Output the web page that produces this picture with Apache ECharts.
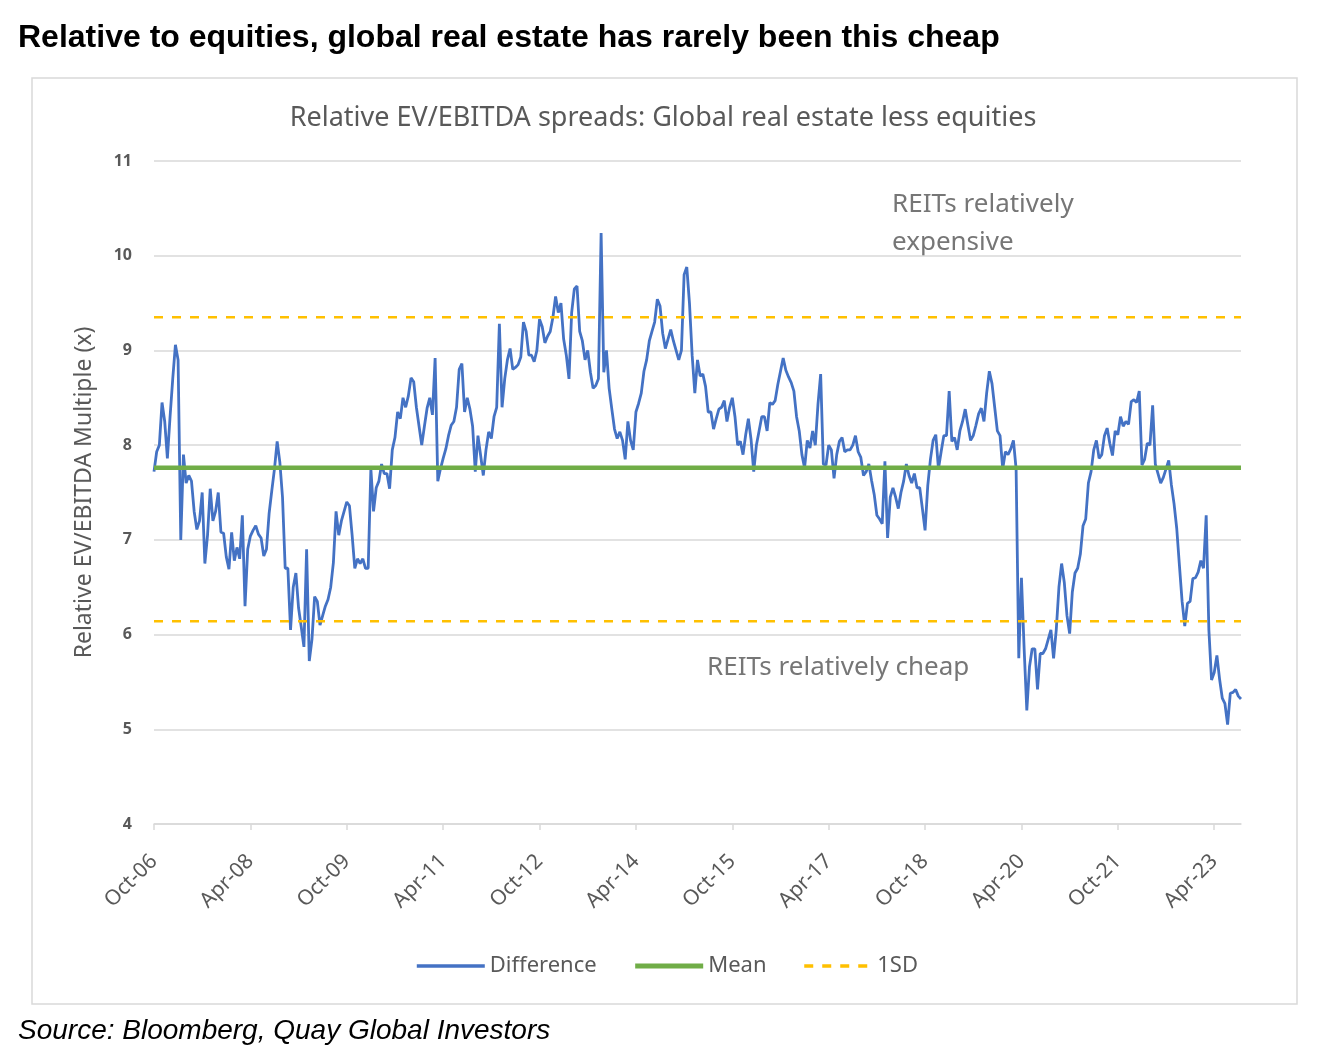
<!DOCTYPE html>
<html>
<head>
<meta charset="utf-8">
<title>Relative EV/EBITDA spreads</title>
<script src="https://cdn.jsdelivr.net/npm/echarts@6/dist/echarts.min.js"></script>
<style>
  html, body { margin: 0; padding: 0; background: #fff; }
  #chart { width: 1333px; height: 1063px; }
</style>
</head>
<body>
<div id="chart"></div>
<script>
// semi-monthly readings, Oct-06 .. Sep-23
var differenceValues = [
  7.72, 7.93, 8.0, 8.45, 8.25, 7.86, 8.3, 8.7, 9.06, 8.9,
  7.0, 7.9, 7.6, 7.68, 7.62, 7.3, 7.11, 7.2, 7.5, 6.75,
  7.05, 7.54, 7.2, 7.3, 7.5, 7.08, 7.07, 6.82, 6.69, 7.08,
  6.78, 6.92, 6.8, 7.26, 6.3, 6.9, 7.04, 7.1, 7.15, 7.06,
  7.02, 6.83, 6.9, 7.28, 7.52, 7.75, 8.04, 7.82, 7.45, 6.7,
  6.7, 6.05, 6.5, 6.65, 6.28, 6.08, 5.87, 6.9, 5.72, 5.95,
  6.4, 6.35, 6.1, 6.2, 6.3, 6.37, 6.5, 6.76, 7.3, 7.05,
  7.2, 7.3, 7.4, 7.36, 7.05, 6.7, 6.8, 6.75, 6.8, 6.7,
  6.7, 7.75, 7.3, 7.55, 7.62, 7.8, 7.7, 7.7, 7.54, 7.95,
  8.08, 8.35, 8.28, 8.5, 8.4, 8.52, 8.71, 8.67, 8.4, 8.2,
  8.0, 8.2, 8.39, 8.5, 8.32, 8.92, 7.62, 7.75, 7.86, 7.96,
  8.1, 8.21, 8.25, 8.4, 8.8, 8.86, 8.35, 8.5, 8.38, 8.2,
  7.72, 8.1, 7.89, 7.68, 7.95, 8.14, 8.07, 8.3, 8.4, 9.28,
  8.4, 8.7, 8.9, 9.02, 8.8, 8.82, 8.85, 8.93, 9.3, 9.2,
  8.95, 8.95, 8.88, 9.0, 9.33, 9.25, 9.08, 9.15, 9.2, 9.35,
  9.57, 9.4, 9.5, 9.12, 8.95, 8.7, 9.4, 9.65, 9.68, 9.2,
  9.1, 8.9, 9.0, 8.77, 8.6, 8.63, 8.7, 10.24, 8.77, 9.0,
  8.6, 8.38, 8.17, 8.07, 8.14, 8.05, 7.85, 8.25, 8.05, 7.95,
  8.35, 8.44, 8.55, 8.78, 8.9, 9.1, 9.2, 9.3, 9.54, 9.47,
  9.18, 9.02, 9.12, 9.22, 9.1, 9.0, 8.9, 9.0, 9.8, 9.88,
  9.5, 8.95, 8.55, 8.9, 8.73, 8.75, 8.62, 8.35, 8.35, 8.17,
  8.28, 8.38, 8.4, 8.47, 8.25, 8.4, 8.5, 8.3, 8.0, 8.04,
  7.9, 8.11, 8.28, 8.06, 7.72, 8.0, 8.15, 8.3, 8.3, 8.15,
  8.45, 8.43, 8.47, 8.64, 8.78, 8.92, 8.79, 8.72, 8.66, 8.57,
  8.3, 8.15, 7.9, 7.76, 8.05, 7.97, 8.15, 8.0, 8.43, 8.75,
  7.8, 7.79, 8.0, 7.95, 7.65, 7.9, 8.04, 8.08, 7.93, 7.95,
  7.95, 8.0, 8.1, 7.93, 7.87, 7.68, 7.72, 7.8, 7.63, 7.48,
  7.26, 7.22, 7.17, 7.83, 7.02, 7.45, 7.55, 7.45, 7.33, 7.5,
  7.62, 7.8, 7.68, 7.6, 7.7, 7.55, 7.55, 7.33, 7.1, 7.57,
  7.85, 8.05, 8.11, 7.75, 7.93, 8.1, 8.1, 8.57, 8.04, 8.08,
  7.95, 8.15, 8.25, 8.38, 8.21, 8.05, 8.1, 8.21, 8.33, 8.39,
  8.25, 8.55, 8.78, 8.65, 8.4, 8.15, 8.1, 7.75, 7.93, 7.9,
  7.96, 8.05, 7.75, 5.75, 6.6, 5.85, 5.2, 5.66, 5.85, 5.85,
  5.42, 5.8, 5.8, 5.85, 5.95, 6.05, 5.75, 6.05, 6.5, 6.75,
  6.55, 6.2, 6.01, 6.45, 6.65, 6.7, 6.85, 7.15, 7.22, 7.6,
  7.72, 7.95, 8.05, 7.86, 7.9, 8.1, 8.18, 8.02, 7.89, 8.15,
  8.11, 8.3, 8.2, 8.25, 8.22, 8.46, 8.48, 8.45, 8.57, 7.79,
  7.85, 8.02, 8.0, 8.42, 7.8, 7.7, 7.6, 7.66, 7.75, 7.84,
  7.58, 7.38, 7.12, 6.73, 6.35, 6.09, 6.33, 6.35, 6.59, 6.6,
  6.66, 6.78, 6.7, 7.26, 6.05, 5.52, 5.6, 5.78, 5.53, 5.33,
  5.27, 5.05, 5.38, 5.39, 5.42, 5.35, 5.32
];
var meanValue = 7.76;
var sdUpper = 9.35;
var sdLower = 6.14;
var monthNames = ['Jan', 'Feb', 'Mar', 'Apr', 'May', 'Jun', 'Jul', 'Aug', 'Sep', 'Oct', 'Nov', 'Dec'];
var labelEvery = 36; // 18 months of half-month points

var dates = [];
for (var i = 0; i < differenceValues.length; i++) {
  var m = 9 + Math.floor(i / 2);
  var yr = 2006 + Math.floor(m / 12);
  dates.push(monthNames[m % 12] + '-' + String(yr).slice(2) + '|' + (i % 2 + 1));
}
var meanLine = dates.map(function () { return meanValue; });
var upperLine = dates.map(function () { return sdUpper; });
var lowerLine = dates.map(function () { return sdLower; });

var chart = echarts.init(document.getElementById('chart'));
var txt = '#595959';
var font = '"Noto Sans", sans-serif';

var option = {
  animation: false,
  backgroundColor: '#fff',
  grid: { left: 154, right: 92, top: 161, bottom: 239 },
  legend: {
    data: [
      { name: 'Difference', lineStyle: { width: 3.5 } },
      { name: 'Mean', lineStyle: { width: 5 } },
      { name: '1SD', lineStyle: { width: 3.5 } }
    ],
    left: 'center',
    top: 950,
    itemWidth: 68,
    itemHeight: 14,
    itemGap: 36,
    itemStyle: { opacity: 0 },
    textStyle: { color: txt, fontSize: 22, fontFamily: font }
  },
  xAxis: {
    type: 'category',
    data: dates,
    boundaryGap: false,
    axisLine: { lineStyle: { color: '#d9d9d9', width: 1.5 } },
    axisTick: {
      length: 6,
      lineStyle: { color: '#d9d9d9', width: 1.5 },
      interval: function (idx) { return idx % labelEvery === 0; }
    },
    axisLabel: {
      rotate: 45,
      margin: 34,
      color: txt,
      fontSize: 21,
      fontFamily: font,
      interval: function (idx) { return idx % labelEvery === 0; },
      formatter: function (v) { return v.split('|')[0]; }
    },
    splitLine: { show: false }
  },
  yAxis: {
    type: 'value',
    min: 4,
    max: 11,
    interval: 1,
    name: 'Relative EV/EBITDA Multiple (x)',
    nameLocation: 'middle',
    nameGap: 58,
    nameTextStyle: { color: txt, fontSize: 23, fontFamily: font },
    axisLine: { show: false },
    axisTick: { show: false },
    axisLabel: { color: txt, fontSize: 16, fontWeight: 'bold', fontFamily: font, margin: 22 },
    splitLine: { lineStyle: { color: '#d9d9d9', width: 1.5 } }
  },
  series: [
    {
      name: 'Difference',
      type: 'line',
      data: differenceValues,
      symbol: 'none',
      lineStyle: { color: '#4472C4', width: 2.8 },
      itemStyle: { color: '#4472C4' }
    },
    {
      name: 'Mean',
      type: 'line',
      data: meanLine,
      symbol: 'none',
      lineStyle: { color: '#70AD47', width: 4.5 },
      itemStyle: { color: '#70AD47' }
    },
    {
      name: '1SD',
      type: 'line',
      data: upperLine,
      symbol: 'none',
      lineStyle: { color: '#FFC000', width: 2.5, type: [9, 9] },
      itemStyle: { color: '#FFC000' }
    },
    {
      name: '1SD',
      type: 'line',
      data: lowerLine,
      symbol: 'none',
      lineStyle: { color: '#FFC000', width: 2.5, type: [9, 9] },
      itemStyle: { color: '#FFC000' }
    }
  ],
  graphic: [
    {
      type: 'rect',
      shape: { x: 32, y: 78, width: 1265, height: 926 },
      style: { fill: 'none', stroke: '#d9d9d9', lineWidth: 1.5 },
      z: -1
    },
    {
      type: 'text', x: 18, y: 38,
      style: { text: 'Relative to equities, global real estate has rarely been this cheap',
               font: 'bold 32px "Liberation Sans", Arial, sans-serif', fill: '#000',
               align: 'left', verticalAlign: 'middle' }
    },
    {
      type: 'text', x: 663, y: 118,
      style: { text: 'Relative EV/EBITDA spreads: Global real estate less equities',
               font: '27px ' + font, fill: txt, align: 'center', verticalAlign: 'middle' }
    },
    {
      type: 'text', x: 892, y: 205,
      style: { text: 'REITs relatively', font: '26px ' + font, fill: '#767676',
               align: 'left', verticalAlign: 'middle' }
    },
    {
      type: 'text', x: 892, y: 243,
      style: { text: 'expensive', font: '26px ' + font, fill: '#767676',
               align: 'left', verticalAlign: 'middle' }
    },
    {
      type: 'text', x: 707, y: 668,
      style: { text: 'REITs relatively cheap', font: '26px ' + font, fill: '#767676',
               align: 'left', verticalAlign: 'middle' }
    },
    {
      type: 'text', x: 18, y: 1031,
      style: { text: 'Source: Bloomberg, Quay Global Investors',
               font: 'italic 28px "Liberation Sans", Arial, sans-serif', fill: '#000',
               align: 'left', verticalAlign: 'middle' }
    }
  ]
};

chart.setOption(option);
</script>
</body>
</html>
